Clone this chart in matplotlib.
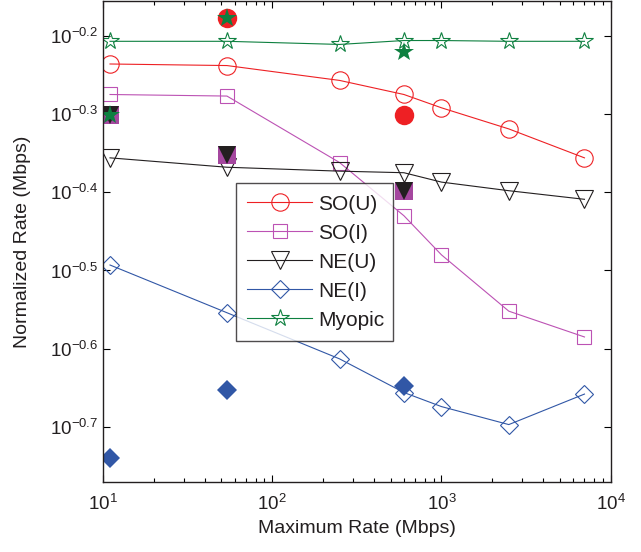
import numpy as np
import matplotlib
matplotlib.use("Agg")
import matplotlib.pyplot as plt
from matplotlib.ticker import FixedLocator, NullLocator, FuncFormatter, LogLocator

plt.rcParams['font.family'] = ['Liberation Sans', 'DejaVu Sans']
plt.rcParams['mathtext.fontset'] = 'custom'
plt.rcParams['mathtext.rm'] = 'Liberation Sans'
plt.rcParams['mathtext.it'] = 'Liberation Sans:italic'

# max rate (Mbps)
rates = [11, 54, 250, 600, 1000, 2500, 7000]
# exponents of normalized rate (y = 10**value)
so_u = [-0.236, -0.238, -0.257, -0.275, -0.292, -0.319, -0.356]
so_i = [-0.275, -0.277, -0.362, -0.430, -0.480, -0.552, -0.585]
ne_u = [-0.356, -0.368, -0.373, -0.375, -0.387, -0.398, -0.409]
ne_i = [-0.493, -0.554, -0.613, -0.656, -0.674, -0.697, -0.658]
myopic = [-0.207, -0.207, -0.211, -0.206, -0.206, -0.207, -0.207]

# measured points (filled markers)
so_u_meas_x = [54, 600]
so_u_meas = [-0.177, -0.301]
so_i_meas_x = [11, 54, 600]
so_i_meas = [-0.301, -0.352, -0.398]
ne_u_meas_x = [11, 54, 600]
ne_u_meas = [-0.301, -0.352, -0.398]
ne_i_meas_x = [11, 54, 600]
ne_i_meas = [-0.740, -0.653, -0.648]
myo_meas_x = [11, 54, 600]
myo_meas = [-0.301, -0.177, -0.221]

c_sou = '#EE2024'
c_soi = '#BC52B4'
c_neu = '#231F20'
c_nei = '#3157A6'
c_myo = '#0E8040'

def p(v):
    return 10 ** np.array(v)

fig = plt.figure(figsize=(6.41, 5.52), dpi=100)
ax = fig.add_axes([0.1607, 0.1274, 0.792, 0.8706])

lw = 0.8
ax.plot(rates, p(so_u), '-o', color=c_sou, mfc='none', ms=12.5, mew=0.8, lw=lw, label='SO(U)')
ax.plot(rates, p(so_i), '-s', color=c_soi, mfc='none', ms=9.5, mew=0.8, lw=lw, label='SO(I)')
ax.plot(rates, p(ne_u), '-v', color=c_neu, mfc='none', ms=12.5, mew=0.8, lw=lw, label='NE(U)')
ax.plot(rates, p(ne_i), '-D', color=c_nei, mfc='none', ms=9.5, mew=0.8, lw=lw, label='NE(I)')
ax.plot(rates, p(myopic), '-*', color=c_myo, mfc='none', ms=13, mew=0.8, lw=lw, label='Myopic')

ax.plot(so_u_meas_x, p(so_u_meas), 'o', color=c_sou, ms=14, mew=0)
ax.plot(so_i_meas_x, p(so_i_meas), 's', color='#A5479F', ms=12.5, mew=0)
ax.plot(ne_u_meas_x, p(ne_u_meas), 'v', color=c_neu, ms=13, mew=0)
ax.plot(ne_i_meas_x, p(ne_i_meas), 'D', color=c_nei, ms=10.5, mew=0)
ax.plot(myo_meas_x, p(myo_meas), '*', color=c_myo, ms=15, mew=0)

ax.set_xscale('log')
ax.set_yscale('log')
ax.set_xlim(10, 1e4)
ax.set_ylim(10 ** -0.770, 10 ** -0.1556)

yt = [-0.7, -0.6, -0.5, -0.4, -0.3, -0.2]
ax.yaxis.set_major_locator(FixedLocator(p(yt)))
ax.yaxis.set_minor_locator(NullLocator())
ax.yaxis.set_major_formatter(FuncFormatter(lambda v, pos: r'$10^{%.1f}$' % np.log10(v)))
ax.xaxis.set_major_locator(LogLocator(base=10))
ax.xaxis.set_minor_locator(LogLocator(base=10, subs=np.arange(2, 10)))
ax.xaxis.set_major_formatter(FuncFormatter(lambda v, pos: r'$10^{%d}$' % round(np.log10(v))))

ax.tick_params(which='both', direction='in', top=True, right=True, labelsize=13.5,
               labelcolor='#231F20')
ax.tick_params(which='major', length=5, width=0.8)
ax.tick_params(which='minor', length=3, width=0.8)
ax.tick_params(axis='x', pad=9)
for s in ax.spines.values():
    s.set_linewidth(1.0)
    s.set_color('#231F20')

ax.set_xlabel('Maximum Rate (Mbps)', fontsize=14, color='#231F20')
ax.set_ylabel('Normalized Rate (Mbps)', fontsize=14, color='#231F20')
ax.yaxis.set_label_coords(-0.142, 0.5)

leg = ax.legend(loc='upper left', bbox_to_anchor=(0.262, 0.299, 0.309, 0.322), mode='expand',
                fontsize=15, frameon=True, fancybox=False, handlelength=3.1,
                borderaxespad=0, labelspacing=0.48, borderpad=0.55, handletextpad=0.3)
leg.get_frame().set_edgecolor('#231F20')
leg.get_frame().set_linewidth(1.0)
for t in leg.get_texts():
    t.set_color('#231F20')

fig.savefig('out.png', dpi=100)
